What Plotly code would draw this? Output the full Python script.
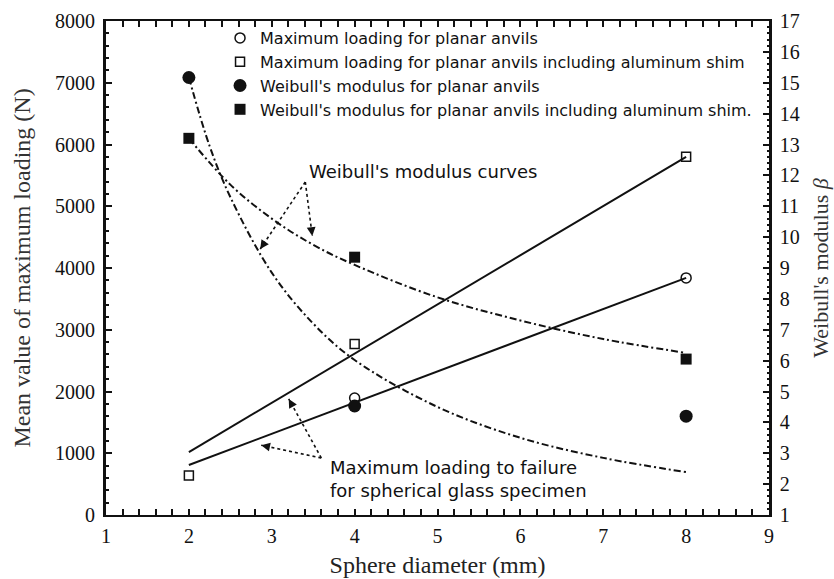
import plotly.graph_objects as go

# Measured points
diameter = [2, 4, 8]
load_planar_x = [4, 8]
load_planar = [1895, 3840]            # N, open circles
load_shim = [640, 2770, 5800]          # N, open squares
weibull_planar = [15.17, 4.53, 4.2]    # beta, filled circles
weibull_shim = [13.2, 9.35, 6.05]      # beta, filled squares

# Linear trends of the maximum loading
fit_x = [2, 8]
fit_load_planar = [810, 3840]
fit_load_shim = [1020, 5800]

# Weibull's modulus trend curves
curve_planar_x = [2, 2.25, 2.5, 3, 3.5, 4, 5, 6, 7, 8]
curve_planar_beta = [15.17, 12.95, 11.3, 8.85, 7.2, 6.02, 4.5, 3.5, 2.85, 2.39]
curve_shim_x = [2, 2.5, 3, 3.5, 4, 5, 6, 7, 8]
curve_shim_beta = [13.2, 11.7, 10.6, 9.75, 9.1, 8.05, 7.3, 6.7, 6.25]

legend_names = [
    "Maximum loading for planar anvils",
    "Maximum loading for planar anvils including aluminum shim",
    "Weibull's modulus for planar anvils",
    "Weibull's modulus for planar anvils including aluminum shim.",
]

SERIF = "Liberation Serif, Times New Roman, serif"
SANS = "DejaVu Sans, Arial, sans-serif"
INK = "#111111"
DASHDOT = "7px,3px,2px,3px"

fig = go.Figure()

# trend lines
fig.add_trace(go.Scatter(x=fit_x, y=fit_load_shim, mode="lines",
                         line=dict(color=INK, width=2), showlegend=False))
fig.add_trace(go.Scatter(x=fit_x, y=fit_load_planar, mode="lines",
                         line=dict(color=INK, width=2), showlegend=False))
fig.add_trace(go.Scatter(x=curve_planar_x, y=curve_planar_beta, yaxis="y2",
                         mode="lines", line=dict(color=INK, width=2, dash=DASHDOT,
                                                 shape="spline"),
                         showlegend=False))
fig.add_trace(go.Scatter(x=curve_shim_x, y=curve_shim_beta, yaxis="y2",
                         mode="lines", line=dict(color=INK, width=2, dash=DASHDOT,
                                                 shape="spline"),
                         showlegend=False))

# markers
fig.add_trace(go.Scatter(x=load_planar_x, y=load_planar, mode="markers",
                         name=legend_names[0],
                         marker=dict(symbol="circle-open", size=10, color=INK,
                                     line=dict(width=1.5, color=INK))))
fig.add_trace(go.Scatter(x=diameter, y=load_shim, mode="markers",
                         name=legend_names[1],
                         marker=dict(symbol="square-open", size=9, color=INK,
                                     line=dict(width=1.5, color=INK))))
fig.add_trace(go.Scatter(x=diameter, y=weibull_planar, yaxis="y2", mode="markers",
                         name=legend_names[2],
                         marker=dict(symbol="circle", size=13, color=INK)))
fig.add_trace(go.Scatter(x=diameter, y=weibull_shim, yaxis="y2", mode="markers",
                         name=legend_names[3],
                         marker=dict(symbol="square", size=11, color=INK)))

# dotted leader lines with arrowheads
leaders = [
    ((3.405, 5393), (2.861, 4308)),
    ((3.405, 5393), (3.489, 4518)),
    ((3.598, 923), (3.205, 1880)),
    ((3.598, 923), (2.873, 1130)),
]
annotations = []
for (x0, y0), (x1, y1) in leaders:
    fig.add_shape(type="line", x0=x0, y0=y0, x1=x1, y1=y1, xref="x", yref="y",
                  line=dict(color=INK, width=1.6, dash="dot"))
    fx, fy = x1 + (x0 - x1) * 0.12, y1 + (y0 - y1) * 0.12
    annotations.append(dict(x=x1, y=y1, ax=fx, ay=fy, xref="x", yref="y",
                            axref="x", ayref="y", text="", showarrow=True,
                            arrowhead=2, arrowsize=1.1, arrowwidth=1.6,
                            arrowcolor=INK, standoff=0, startstandoff=0))

annotations.append(dict(x=3.43, y=5555, xref="x", yref="y", xanchor="left",
                        yanchor="middle", showarrow=False,
                        text="Weibull's modulus curves",
                        font=dict(family=SANS, size=18, color=INK)))
annotations.append(dict(x=3.683, y=591, xref="x", yref="y", xanchor="left",
                        yanchor="middle", showarrow=False, align="left",
                        text="Maximum loading to failure<br>for spherical glass specimen",
                        font=dict(family=SANS, size=18, color=INK)))

tick_font = dict(family=SERIF, size=20, color=INK)

fig.update_layout(
    width=834, height=579,
    margin=dict(l=106, r=65, t=21, b=64),
    paper_bgcolor="white", plot_bgcolor="white",
    showlegend=True,
    legend=dict(x=0.172, y=1.0, xanchor="left", yanchor="top",
                bgcolor="rgba(0,0,0,0)", borderwidth=0,
                font=dict(family=SANS, size=16, color=INK),
                tracegroupgap=0, itemwidth=30),
    annotations=annotations,
    xaxis=dict(range=[1, 9], dtick=1, tick0=1, showgrid=False, zeroline=False,
               showline=True, linecolor=INK, linewidth=2, mirror="allticks",
               ticks="inside", ticklen=6, tickwidth=2, tickcolor=INK,
               minor=dict(dtick=0.2, ticks="inside", ticklen=2.5, tickwidth=2,
                          tickcolor=INK),
               tickfont=tick_font, ticklabelstandoff=2,
               title=dict(text="Sphere diameter (mm)",
                          font=dict(family=SERIF, size=24, color="#222222"),
                          standoff=10),
               automargin=False),
    yaxis=dict(range=[0, 8000], dtick=1000, showgrid=False, zeroline=False,
               showline=True, linecolor=INK, linewidth=3,
               ticks="inside", ticklen=6, tickwidth=2, tickcolor=INK,
               minor=dict(dtick=200, ticks="inside", ticklen=2.5, tickwidth=2,
                          tickcolor=INK),
               tickfont=tick_font, ticklabelstandoff=4,
               title=dict(text="Mean value of maximum loading (N)",
                          font=dict(family=SERIF, size=24, color="#333333"),
                          standoff=18),
               automargin=False),
    yaxis2=dict(range=[1, 17], dtick=1, tick0=1, overlaying="y", side="right",
                showgrid=False, zeroline=False,
                showline=True, linecolor=INK, linewidth=2.5,
                ticks="inside", ticklen=6, tickwidth=2, tickcolor=INK,
                minor=dict(dtick=0.2, ticks="inside", ticklen=2.5, tickwidth=2,
                           tickcolor=INK),
                tickfont=tick_font, ticklabelstandoff=4,
                title=dict(text="Weibull's modulus <i>β</i>",
                           font=dict(family=SERIF, size=22, color="#333333"),
                           standoff=14),
                automargin=False),
)

fig.write_html("out.html")
